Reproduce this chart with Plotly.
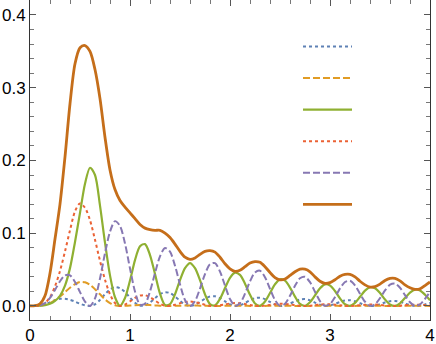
import plotly.graph_objects as go

# sample positions along t (0 .. 4, step 0.05)
t = [i / 20 for i in range(81)]

# values
blue_dot = [0, 0, 0.0005, 0.002, 0.005, 0.008, 0.0098, 0.0098, 0.0085, 0.006, 0.003, 0.0008, 0,
            0.0023, 0.0084, 0.0161, 0.0227, 0.0259, 0.0244, 0.0191, 0.0114, 0.0044, 0.0004,
            0.0007, 0.0048, 0.0107, 0.0162, 0.0189, 0.0177, 0.0131, 0.0071, 0.0019, 0,
            0.0015, 0.0054, 0.0099, 0.0129, 0.0133, 0.0106, 0.0063, 0.0021, 0.0001,
            0.0009, 0.004, 0.0079, 0.0108, 0.0114, 0.0093, 0.0055, 0.0019, 0,
            0.0007, 0.0033, 0.0065, 0.0089, 0.0094, 0.0077, 0.0046, 0.0016, 0,
            0.0006, 0.0028, 0.0055, 0.0075, 0.0079, 0.0065, 0.0039, 0.0013, 0,
            0.0005, 0.0024, 0.0048, 0.0066, 0.0069, 0.0057, 0.0034, 0.0012, 0,
            0.0005, 0.0021, 0.0043]

orange_dash = [0, 0, 0.0003, 0.0015, 0.004, 0.008, 0.013, 0.019, 0.025, 0.03, 0.033, 0.0325, 0.029,
               0.023, 0.016, 0.009, 0.004, 0.001, 0,
               0.0002, 0.0006, 0.0011, 0.0014, 0.0015, 0.0012, 0.0008, 0.0003, 0,
               0, 0.0002, 0.0004, 0.0006, 0.0007, 0.0006, 0.0004, 0.0002, 0,
               0, 0.0001, 0.0003, 0.0004, 0.0005, 0.0004, 0.0003, 0.0001, 0,
               0, 0.0001, 0.0002, 0.0003, 0.0004, 0.0003, 0.0002, 0.0001, 0,
               0, 0.0001, 0.0002, 0.0003, 0.0004, 0.0003, 0.0002, 0.0001, 0,
               0, 0.0001, 0.0002, 0.0003, 0.0004, 0.0003, 0.0002, 0.0001, 0,
               0, 0.0001, 0.0002, 0.0003, 0.0003, 0.0003, 0.0002, 0.0001]

green_solid = [0, 0, 0.0003, 0.001, 0.003, 0.007, 0.014, 0.028, 0.052, 0.088, 0.128, 0.168, 0.19,
               0.18, 0.138, 0.087, 0.042, 0.012, 0.0002,
               0.011, 0.035, 0.063, 0.082, 0.085, 0.07, 0.044, 0.017, 0.0015,
               0.0025, 0.016, 0.0355, 0.052, 0.059, 0.052, 0.0355, 0.016, 0.0025,
               0.0009, 0.0098, 0.0246, 0.0387, 0.0458, 0.0427, 0.0307, 0.0153, 0.0034,
               0.0002, 0.0061, 0.0179, 0.0299, 0.0366, 0.0348, 0.0253, 0.0128, 0.0028,
               0.0002, 0.005, 0.0145, 0.0242, 0.0297, 0.0282, 0.0206, 0.0104, 0.0023,
               0.0001, 0.0043, 0.0126, 0.021, 0.0257, 0.0244, 0.0178, 0.009, 0.002,
               0.0001, 0.0037, 0.011, 0.0183, 0.0225, 0.0213, 0.0155, 0.0078]

red_dot = [0, 0, 0.001, 0.004, 0.012, 0.027, 0.048, 0.075, 0.104, 0.13, 0.141, 0.135, 0.118,
           0.091, 0.062, 0.036, 0.016, 0.004, 0,
           0.0019, 0.0062, 0.011, 0.0143, 0.0148, 0.0122, 0.0076, 0.003, 0.0003,
           0.0002, 0.0016, 0.0036, 0.0053, 0.006, 0.0053, 0.0036, 0.0016, 0.0002,
           0.0001, 0.0008, 0.0021, 0.0034, 0.004, 0.0037, 0.0027, 0.0013, 0.0003,
           0, 0.0005, 0.0014, 0.0024, 0.003, 0.0028, 0.0021, 0.001, 0.0002,
           0, 0.0004, 0.0012, 0.002, 0.0025, 0.0024, 0.0017, 0.0009, 0.0002,
           0, 0.0003, 0.001, 0.0016, 0.002, 0.0019, 0.0014, 0.0007, 0.0002,
           0, 0.0003, 0.0009, 0.0015, 0.0018, 0.0017, 0.0012, 0.0006]

purple_dash = [0, 0, 0.001, 0.004, 0.011, 0.022, 0.034, 0.042, 0.042, 0.033, 0.019, 0.006, 0,
               0.0103, 0.0378, 0.0725, 0.102, 0.1166, 0.11, 0.086, 0.0515, 0.0198, 0.0017,
               0.003, 0.02, 0.0452, 0.0683, 0.0797, 0.0746, 0.0553, 0.0297, 0.0082, 0,
               0.0067, 0.0239, 0.0438, 0.0575, 0.0589, 0.0472, 0.028, 0.0095, 0.0003,
               0.0037, 0.0169, 0.0337, 0.0461, 0.0485, 0.0396, 0.0236, 0.0081, 0.0002,
               0.0031, 0.014, 0.0279, 0.0381, 0.0401, 0.0327, 0.0195, 0.0067, 0.0002,
               0.0027, 0.0121, 0.0241, 0.0329, 0.0346, 0.0283, 0.0169, 0.0058, 0.0002,
               0.0024, 0.0107, 0.0213, 0.0292, 0.0307, 0.025, 0.0149, 0.0051, 0.0002,
               0.0021, 0.0097, 0.0193]

total = [0, 0.0003, 0.003, 0.014, 0.045, 0.092, 0.14, 0.205, 0.278, 0.333, 0.355, 0.358, 0.35,
         0.325, 0.285, 0.232, 0.187, 0.16, 0.145,
         0.136, 0.128, 0.12, 0.112, 0.107, 0.105, 0.104, 0.104, 0.1,
         0.094, 0.085, 0.075, 0.067, 0.064, 0.066, 0.071, 0.075, 0.076,
         0.074, 0.067, 0.058, 0.051, 0.0475, 0.049, 0.054, 0.059, 0.061,
         0.06, 0.054, 0.046, 0.039, 0.036, 0.037, 0.042, 0.047, 0.0505,
         0.0505, 0.047, 0.04, 0.034, 0.031, 0.032, 0.036, 0.041, 0.0435,
         0.0435, 0.04, 0.034, 0.029, 0.026, 0.0265, 0.03, 0.035, 0.0378,
         0.0378, 0.0345, 0.029, 0.025, 0.0228, 0.0235, 0.028, 0.033]

series = [
    (blue_dot, '#5E81B5', '3px,3px', 2),
    (orange_dash, '#E19C24', '7px,3px', 2),
    (green_solid, '#8FB032', 'solid', 2.2),
    (red_dot, '#EB6235', '3px,3px', 2),
    (purple_dash, '#8778B3', '7px,3px', 2),
    (total, '#C56E1A', 'solid', 2.8),
]

fig = go.Figure()
for vals, col, dash, w in series:
    fig.add_trace(go.Scatter(x=t, y=vals, mode='lines', name='',
                             line=dict(color=col, dash=dash, width=w, shape='spline', smoothing=0.8)))

axis_common = dict(showline=True, linecolor='#333', linewidth=1, mirror='allticks',
                   ticks='inside', ticklen=6, tickcolor='#555', showgrid=False, zeroline=False,
                   automargin=False,
                   tickfont=dict(family='Liberation Sans', size=17, color='black'))

fig.update_xaxes(range=[0, 4], tickvals=[0, 1, 2, 3, 4],
                 minor=dict(ticks='inside', ticklen=4, tickcolor='#777', dtick=0.2), **axis_common)
fig.update_yaxes(range=[-0.0193, 0.4206], tickvals=[0, 0.1, 0.2, 0.3, 0.4], tickformat='.1f',
                 minor=dict(ticks='inside', ticklen=4, tickcolor='#777', dtick=0.02), **axis_common)

fig.update_layout(width=436, height=344, margin=dict(l=30, r=6, t=0, b=24),
                  plot_bgcolor='white', paper_bgcolor='white',
                  showlegend=True,
                  legend=dict(x=0.67, y=0.92, xanchor='left', yanchor='top', bgcolor='rgba(0,0,0,0)',
                              font=dict(size=22), itemwidth=49, tracegroupgap=0))

fig.write_html("out.html", config={'displayModeBar': False},
               post_script="document.body.style.margin='0';")
